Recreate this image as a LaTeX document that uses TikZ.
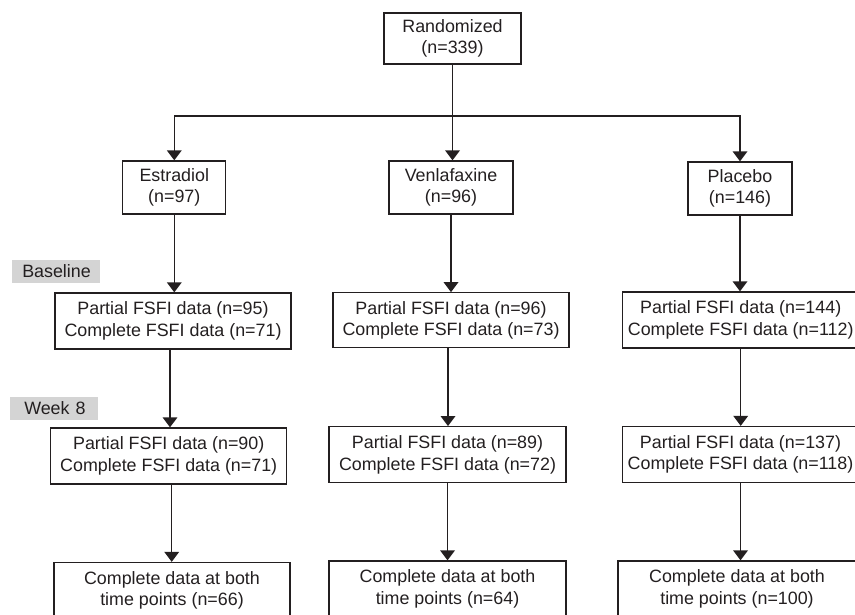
\documentclass[tikz,border=0pt]{standalone}
\usepackage{fontspec}
\setmainfont{Liberation Sans}
\usetikzlibrary{arrows.meta}
\definecolor{ink}{HTML}{231F20}
\definecolor{labelgray}{HTML}{D4D4D4}
\tikzset{
  box/.style={draw=ink, line width=1pt, rectangle, align=center, text=ink,
    font=\fontsize{13.4pt}{16.3pt}\selectfont, inner sep=0pt},
  tag/.style={fill=labelgray, rectangle, text=ink, anchor=west, inner sep=0pt,
    minimum height=23*0.75pt, text width=88*0.75pt, align=left,
    font=\fontsize{13.4pt}{16.3pt}\selectfont},
  conn/.style={draw=ink, line width=1pt},
  arr/.style={conn, -{Triangle[width=11pt,length=7.5pt]}},
}
\begin{document}
\begin{tikzpicture}[x=0.75pt,y=-0.75pt]
\useasboundingbox (0,0) rectangle (855,614);
% top
\node[box, minimum width=137*0.75pt, minimum height=51*0.75pt] (rand) at (452.5,38.5) {Randomized\\(n=339)};
\node[box, minimum width=103*0.75pt, minimum height=53*0.75pt] (est) at (174.3,187.5) {Estradiol\\(n=97)};
\node[box, minimum width=124*0.75pt, minimum height=53*0.75pt] (ven) at (451,187.5) {Venlafaxine\\(n=96)};
\node[box, minimum width=104*0.75pt, minimum height=53*0.75pt] (plc) at (740,188.5) {Placebo\\(n=146)};
% labels
\node[tag] (lb) at (12,271.5) {\hspace*{7.5pt}Baseline};
\node[tag] (lw) at (10,408) {\hspace*{10.5pt}Week 8};
% baseline
\node[box, minimum width=236*0.75pt, minimum height=56*0.75pt] (e1) at (173,321) {Partial FSFI data (n=95)\\Complete FSFI data (n=71)};
\node[box, minimum width=236*0.75pt, minimum height=55*0.75pt] (v1) at (451,320.3) {Partial FSFI data (n=96)\\Complete FSFI data (n=73)};
\node[box, minimum width=236*0.75pt, minimum height=56*0.75pt] (p1) at (740.7,320) {Partial FSFI data (n=144)\\Complete FSFI data (n=112)};
% week 8
\node[box, minimum width=236*0.75pt, minimum height=56*0.75pt] (e2) at (168.7,456) {Partial FSFI data (n=90)\\Complete FSFI data (n=71)};
\node[box, minimum width=237*0.75pt, minimum height=56*0.75pt] (v2) at (447.5,454.7) {Partial FSFI data (n=89)\\Complete FSFI data (n=72)};
\node[box, minimum width=236*0.75pt, minimum height=56*0.75pt] (p2) at (740.5,454.5) {Partial FSFI data (n=137)\\Complete FSFI data (n=118)};
% final
\node[box, minimum width=236*0.75pt, minimum height=56*0.75pt] (e3) at (172,590.5) {Complete data at both\\time points (n=66)};
\node[box, minimum width=237*0.75pt, minimum height=56*0.75pt] (v3) at (447.5,589) {Complete data at both\\time points (n=64)};
\node[box, minimum width=238*0.75pt, minimum height=56*0.75pt] (p3) at (737,589) {Complete data at both\\time points (n=100)};
% connectors
\coordinate (j) at (452.5,116);
\draw[conn] (rand.south) -- (j);
\draw[arr] (j) -| (est.north);
\draw[arr] (j) -- (j |- ven.north);
\draw[arr] (j) -| (plc.north);
\draw[arr] (est.south) -- (est.south |- e1.north);
\draw[arr] (ven.south) -- (ven.south |- v1.north);
\draw[arr] (plc.south) -- (plc.south |- p1.north);
\draw[arr] ([xshift=-2.25pt]e1.south) -- ([xshift=-2.25pt]e1.south |- e2.north);
\draw[arr] ([xshift=-2.25pt]v1.south) -- ([xshift=-2.25pt]v1.south |- v2.north);
\draw[arr] (p1.south) -- (p1.south |- p2.north);
\draw[arr] ([xshift=2.25pt]e2.south) -- ([xshift=2.25pt]e2.south |- e3.north);
\draw[arr] (v2.south) -- (v2.south |- v3.north);
\draw[arr] (p2.south) -- (p2.south |- p3.north);
\end{tikzpicture}
\end{document}
